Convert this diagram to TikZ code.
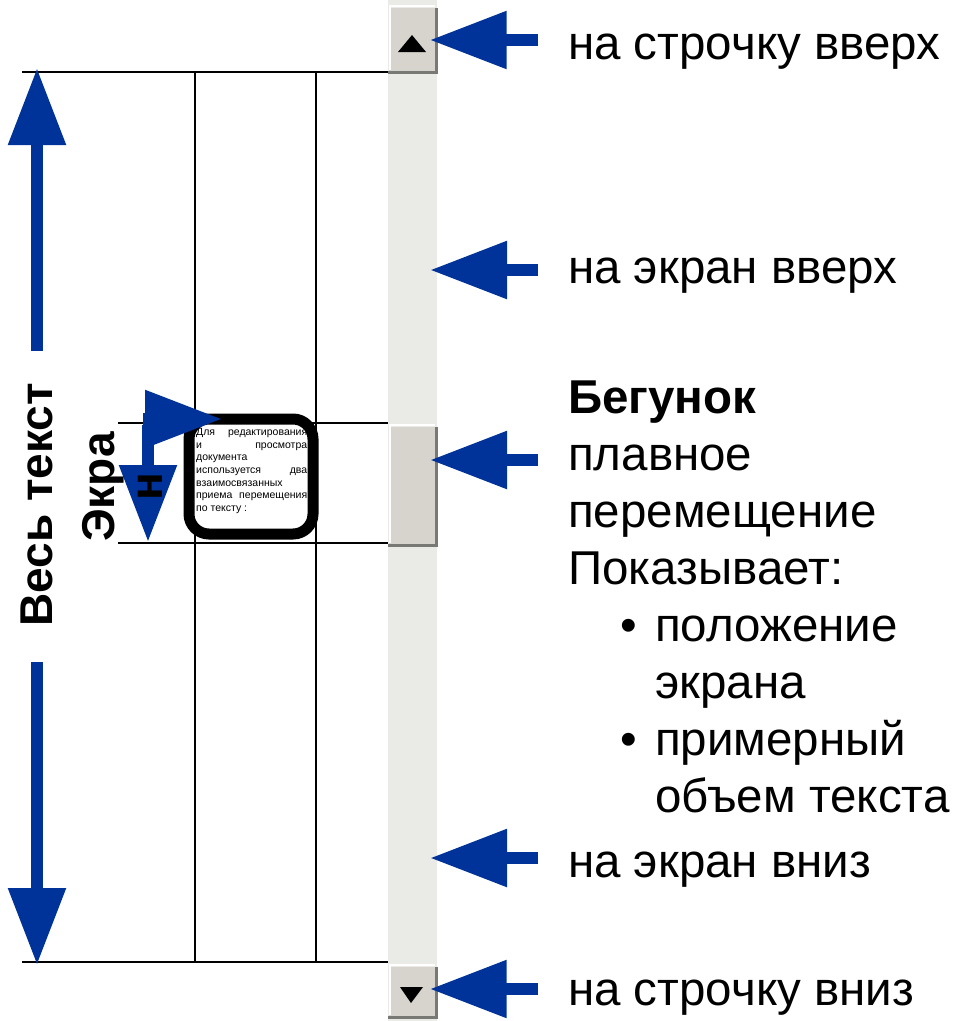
\documentclass[tikz,border=0pt]{standalone}
\usepackage{fontspec}
\setmainfont{Liberation Sans}
\usetikzlibrary{arrows.meta}
\definecolor{arrblue}{RGB}{0,51,153}
\definecolor{trackgray}{RGB}{234,234,230}
\definecolor{btnface}{RGB}{214,212,204}
\definecolor{btndark}{RGB}{120,120,116}

\begin{document}
\begin{tikzpicture}
[x=1pt, y=-1pt,
 bluearr/.style={draw=arrblue, line width=12pt,
    -{Triangle[length=77pt,width=55pt]}},
 lbl/.style={anchor=base west, inner sep=0pt,
    font=\fontsize{47.5}{57}\selectfont},
 vlbl/.style={inner sep=0pt, rotate=90, align=center,
    font=\fontsize{46}{48}\selectfont\bfseries},
 btn/.style={rectangle, fill=btnface, minimum width=48pt, inner sep=0pt},
 hline/.style={line width=2pt}]
\useasboundingbox (0,0) rectangle (953,1021);

% scroll bar
\fill[trackgray] (388,0) rectangle (437,1021);
\node[btn, minimum height=64pt] (btnup) at (412.5,40) {};
\node[btn, minimum height=50pt] (btndn) at (412.5,992) {};
\node[btn, minimum height=118pt] (thumb) at (412.5,486) {};
\foreach \b in {btnup,btndn,thumb}{
    \draw[white, line width=2pt] ([shift={(2,-2)}]\b.south west) -- ([shift={(2,-2)}]\b.north west) -- ([shift={(-2,-2)}]\b.north east);
    \draw[btndark, line width=3pt] (\b.north east) -- (\b.south east) -- (\b.south west);
}
\fill (398,52) -- (412,35) -- (426,52) -- cycle;
\fill (400,987) -- (411,1003) -- (423,987) -- cycle;

% document and screen
\draw[hline] (195,72) rectangle (316,962);
\draw[hline] (22,72) -- (388,72);
\draw[hline] (22,962) -- (388,962);
\draw[hline] (118,423) -- (388,423);
\draw[hline] (118,543) -- (388,543);
\node[draw, fill=white, line width=11pt, rounded corners=20pt,
    minimum width=124pt, minimum height=115pt] (scrbox) at (251,476.5) {};
\node[anchor=north west, inner sep=0pt, text width=111pt, align=justify,
    font=\fontsize{10.5}{12.7}\selectfont] (scrtxt) at (196,428)
    {Для редактирования\linebreak и просмотра\linebreak документа\newline
     используется два\linebreak взаимосвязанных\newline
     приема перемещения\linebreak по тексту :};

% arrows to the scroll bar
\foreach \n/\y in {1/40,2/270,3/460,4/858,5/989}
    \coordinate (tail\n) at (538,\y);
\coordinate (pgup) at (430,270);
\coordinate (thumbpt) at (430,460);
\coordinate (pgdn) at (430,858);
\draw[bluearr] (tail1) -- ([xshift=-7pt]btnup.east);
\draw[bluearr] (tail2) -- (pgup);
\draw[bluearr] (tail3) -- (thumbpt);
\draw[bluearr] (tail4) -- (pgdn);
\draw[bluearr] (tail5) -- ([xshift=-7pt]btndn.east |- tail5);

% whole text
\coordinate (alltop) at (37,68);
\coordinate (allbot) at (37,965);
\node[vlbl] (alltxt) at (37,505) {Весь текст};
\draw[bluearr, shorten <=32pt] (alltxt.east) -- (alltop);
\draw[bluearr, shorten <=35pt] (alltxt.west) -- (allbot);

% screen
\coordinate (scrcorner) at (148,419);
\coordinate (scrright) at (222,419);
\coordinate (scrdown) at (148,542);
\draw[bluearr] ([xshift=-5pt]scrcorner) -- (scrright);
\draw[bluearr] ([yshift=-6pt]scrcorner) -- (scrdown);
\node[vlbl] (scrlbl) at (122,487) {Экра\\н};

% labels
\node[lbl] (lineup) at (568,59) {на строчку вверх};
\node[lbl] (pageup) at (568,283) {на экран вверх};
\node[lbl, align=left] (thumbtxt) at (568,812)
    {\textbf{Бегунок}\\плавное\\перемещение\\Показывает:\\
     \hspace*{52pt}\makebox[35pt][l]{•}положение\\
     \hspace*{87pt}экрана\\
     \hspace*{52pt}\makebox[35pt][l]{•}примерный\\
     \hspace*{87pt}объем текста};
\node[lbl] (pagedn) at (568,877) {на экран вниз};
\node[lbl] (linedn) at (568,1005) {на строчку вниз};
\end{tikzpicture}
\end{document}
